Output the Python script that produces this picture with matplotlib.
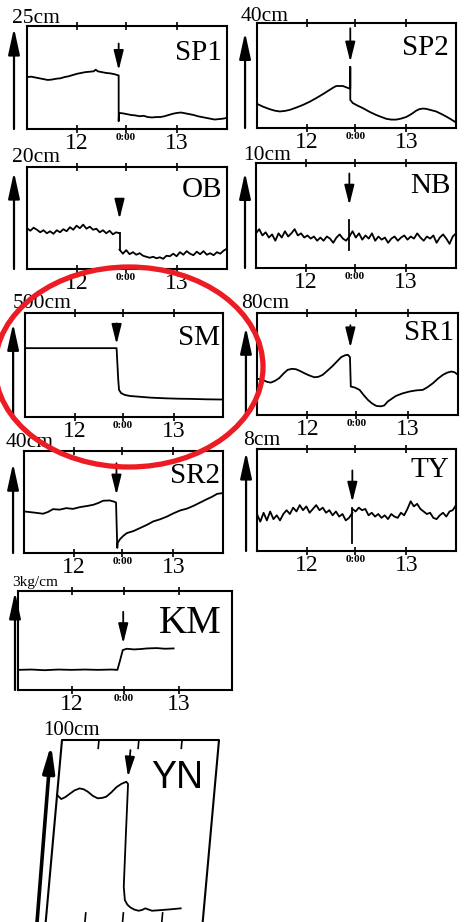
import numpy as np
import matplotlib
matplotlib.use("Agg")
import matplotlib.pyplot as plt
from matplotlib.patches import Ellipse
from matplotlib.transforms import Affine2D

plt.rcParams['font.family'] = ['Liberation Serif', 'DejaVu Serif']

# ------------------------------------------------------------------ data
tick_hours = [12, 23.7, 36]
tick_labels = ['12', '0:00', '13']

# event arrow position (hours) per panel
arrow_hours = {'SP1': 22.0, 'SP2': 22.5, 'OB': 22.2, 'NB': 22.4, 'SM': 22.2,
               'SR1': 22.3, 'SR2': 22.3, 'TY': 23.0, 'KM': 23.6, 'YN': 21.2}
full_scale = {'SP1': 25, 'SP2': 40, 'OB': 20, 'NB': 10, 'SM': 500,
              'SR1': 80, 'SR2': 40, 'TY': 8, 'KM': 3, 'YN': 100}
unit_text = {'SP1': '25cm', 'SP2': '40cm', 'OB': '20cm', 'NB': '10cm', 'SM': '500cm',
             'SR1': '80cm', 'SR2': '40cm', 'TY': '8cm', 'KM': '3kg/cm', 'YN': '100cm'}

sp1_t = [0, 1, 2, 3, 4, 5, 6, 7, 8, 9, 10, 11, 12, 13, 14, 15, 16, 16.5, 17, 18, 19, 20, 21, 22,
         22.0, 22.1, 23, 24, 25, 26, 27, 28, 29, 30, 31, 32, 33, 34, 35, 36, 37, 38, 39, 40,
         41, 42, 43, 44, 45, 46, 47, 48]
sp1_v = [12.6, 12.7, 12.5, 12.3, 12.1, 11.9, 12.0, 12.2, 12.3, 12.6, 12.8, 13.1, 13.4, 13.6,
         13.8, 13.9, 14.0, 14.4, 14.0, 13.8, 13.6, 13.5, 13.3, 13.0,
         1.9, 3.9, 3.8, 3.6, 3.4, 3.3, 3.1, 3.2, 2.9, 2.8, 2.9, 2.9, 3.1, 3.4, 3.7, 3.9, 4.0,
         3.8, 3.6, 3.4, 3.1, 2.9, 2.7, 2.5, 2.3, 2.4, 2.5, 2.7]

sp2_t = [0, 1.5, 3.0, 4.3, 5.5, 6.7, 7.9, 9.5, 11.1, 12.7, 14.3, 15.9, 17.5, 18.3, 19.1, 20.7,
         22.2, 22.5, 22.5, 22.5, 23.1, 24.3, 25.5, 27.1, 28.7, 30.0, 31.2, 32.4, 33.6, 34.8,
         36.0, 36.8, 37.6, 38.4, 39.2, 40.0, 40.8, 42.0, 43.2, 44.4, 45.6, 46.8, 48]
sp2_v = [9.2, 8.1, 7.2, 6.6, 6.3, 6.5, 6.9, 7.8, 8.8, 10.0, 11.4, 12.9, 14.5, 15.3, 16.0, 16.0,
         15.1, 15.1, 23.3, 10.7, 9.5, 8.5, 7.6, 6.2, 5.0, 4.2, 3.5, 3.2, 3.2, 3.6,
         4.2, 4.9, 5.7, 6.6, 7.2, 7.4, 7.3, 6.8, 6.3, 5.4, 4.4, 3.3, 2.1]

ob_pre = [8.0, 7.5, 8.1, 7.7, 7.2, 7.6, 7.0, 7.4, 6.9, 7.6, 7.2, 7.8, 7.4, 8.2, 7.7, 8.5, 8.0,
          8.7, 7.9, 8.3, 7.7, 7.9, 7.2, 7.6, 7.0, 7.5, 6.8, 7.2, 7.0]
ob_post = [3.8, 3.0, 3.7, 2.9, 3.3, 2.8, 3.1, 2.6, 2.4, 2.2, 2.4, 2.1, 2.3, 2.0, 2.6, 2.5, 3.0,
           2.5, 3.3, 2.8, 3.5, 3.0, 2.7, 3.4, 2.9, 3.5, 2.8, 3.1, 2.7, 3.3, 3.0, 3.6, 4.0]

nb_pre = [3.3, 3.7, 3.1, 3.4, 2.9, 3.2, 2.6, 3.3, 2.9, 3.5, 3.0, 3.3, 3.7, 3.1, 3.3, 2.9, 3.1,
          2.8, 3.0, 2.6, 2.9, 2.6, 3.0, 2.8, 2.4, 2.9, 3.2, 2.8, 2.6, 3.0]
nb_post = [3.0, 3.5, 2.9, 3.3, 2.7, 3.1, 2.8, 3.3, 2.6, 3.0, 2.7, 2.9, 2.4, 2.8, 3.0, 2.6, 2.9,
           3.1, 2.7, 3.0, 2.8, 3.3, 2.9, 2.6, 3.0, 2.8, 3.1, 2.4, 2.9, 3.2, 2.8, 2.3, 3.0, 3.3]
nb_spike = [4.6, 1.7]

sm_t = [0, 22.2, 22.6, 22.8, 23.3, 24.2, 25.5, 27.4, 30.5, 33.9, 37.0, 40.3, 44.0, 48]
sm_v = [331, 331, 180, 130, 115, 106, 101, 98, 93, 90, 88, 87, 85, 84]

sr1_t = [0, 1.4, 2.4, 3.3, 4.3, 5.3, 6.3, 7.3, 8.3, 9.3, 10.3, 11.3, 12.5, 13.7, 14.7, 15.7,
         16.9, 18.1, 19.1, 20.1, 21.0, 21.7, 22.2, 22.4, 23.4, 24.5, 25.5, 26.5, 27.5, 28.5,
         29.6, 30.4, 31.2, 32.2, 33.2, 34.8, 36.4, 38.0, 39.6, 40.8, 42.0, 43.2, 44.4, 45.4,
         46.4, 47.2, 48]
sr1_v = [28.5, 27.5, 26.0, 25.4, 26.8, 28.9, 32.4, 35.4, 36.2, 35.9, 34.5, 32.8, 31.0, 29.6,
         30.0, 31.5, 35.0, 38.6, 42.0, 45.4, 46.8, 47.2, 45.4, 22.3, 21.5, 19.7, 15.5, 11.8,
         9.0, 7.1, 6.8, 7.5, 10.5, 12.8, 15.0, 17.0, 18.4, 19.3, 19.7, 22.0, 24.9, 28.5, 31.5,
         33.2, 34.1, 33.5, 31.5]

sr2_t = [0, 2.2, 4.6, 5.8, 7.0, 8.6, 10.2, 11.8, 13.5, 15.1, 16.7, 17.9, 19.1, 20.7, 21.6, 22.2,
         22.5, 22.6, 23.2, 24.0, 24.8, 26.4, 28.0, 29.6, 31.2, 32.8, 34.5, 36.1, 37.7, 39.3,
         40.9, 42.5, 44.1, 45.3, 46.6, 48]
sr2_v = [16.3, 15.9, 15.4, 16.1, 17.2, 17.0, 17.6, 17.3, 18.0, 18.4, 18.9, 19.6, 20.5, 20.6,
         20.2, 19.8, 2.0, 4.0, 5.5, 6.8, 7.8, 8.6, 9.8, 11.0, 12.4, 13.2, 14.3, 15.6, 16.7,
         17.4, 18.5, 19.8, 21.1, 22.0, 23.2, 23.5]

ty_pre = [2.9, 2.3, 3.0, 2.4, 3.1, 2.5, 2.8, 2.4, 2.9, 3.2, 2.9, 3.4, 3.1, 3.6, 3.2, 3.5, 3.0,
          3.3, 3.6, 3.2, 3.4, 3.0, 3.2, 2.8, 3.1, 2.7, 2.9, 2.4, 2.6, 3.0]
ty_post = [3.3, 3.1, 3.4, 3.2, 3.3, 2.8, 3.0, 2.7, 2.9, 2.6, 2.8, 2.5, 2.9, 2.7, 2.6, 3.0, 2.8,
           3.3, 3.9, 3.5, 3.7, 3.3, 3.1, 2.9, 3.0, 2.6, 2.5, 2.8, 3.0, 2.7, 3.1, 3.2, 3.6]
ty_spike = [3.35, 0.6]

km_t = [0, 3, 6, 9, 12, 15, 18, 21, 22.3, 22.9, 23.5, 24.4, 26.0, 27.4, 29.0, 31.1, 33.0, 34.9]
km_v = [0.61, 0.62, 0.60, 0.62, 0.61, 0.62, 0.61, 0.62, 0.61, 0.90, 1.21, 1.25, 1.23, 1.24,
        1.26, 1.27, 1.25, 1.26]

yn_t = [0, 1.4, 2.6, 3.8, 5.2, 6.7, 8.0, 9.3, 11.0, 12.5, 13.8, 15.1, 16.5, 17.9, 19.4, 20.8,
        21.4, 22.1, 22.9, 23.6, 24.5, 25.5, 26.8, 28.1, 29.1, 30.1, 31.2, 32.2, 35.2, 38.0, 40.9]
yn_v = [70.1, 67.9, 69.0, 70.7, 72.6, 73.7, 73.2, 71.9, 69.6, 68.3, 68.5, 69.2, 71.5, 74.3,
        76.2, 77.3, 76.1, 49.3, 20.3, 13.0, 10.5, 9.0, 7.8, 7.2, 7.6, 8.5, 7.8, 7.2, 7.6, 8.0, 8.5]
yn_ticks_top = [11.3, 23.5, 36.7]
yn_ticks_bottom = [12.0, 23.5, 35.5]

# ------------------------------------------------------------------ figure
W, H = 473, 922
fig = plt.figure(figsize=(W / 100, H / 100), dpi=100)
LW = 1.3


def add_px_axes(l, t, r, b):
    return fig.add_axes([l / W, 1 - b / H, (r - l) / W, (b - t) / H])


def arrow(ax, xy, xytext, coords, hl=1.0, hw=0.3, lw=1.4):
    ax.annotate('', xy=xy, xytext=xytext, xycoords=coords, textcoords=coords,
                arrowprops=dict(arrowstyle=f'-|>,head_length={hl},head_width={hw}',
                                lw=lw, color='black', shrinkA=0, shrinkB=0,
                                mutation_scale=10),
                annotation_clip=False)


def panel(key, box, name_xy, unit_xy, yarrow, evarrow, name_size=21, unit_size=15.5):
    ax = add_px_axes(*box)
    ax.set_xlim(0, 48)
    ax.set_ylim(0, full_scale[key])
    ax.set_yticks([])
    ax.set_xticks(tick_hours)
    ax.set_xticklabels(tick_labels)
    ax.tick_params(axis='x', top=True, bottom=True, direction='inout', length=6,
                   width=1.2, pad=0)
    labs = ax.get_xticklabels()
    for i, lab in enumerate(labs):
        if i == 1:
            lab.set_fontsize(8)
            lab.set_fontweight('bold')
        else:
            lab.set_fontsize(17)
    for s in ax.spines.values():
        s.set_linewidth(1.5)
    ax.text(name_xy[0], name_xy[1], key, transform=ax.transAxes, ha='right',
            va='baseline', fontsize=name_size)
    ax.text(unit_xy[0], unit_xy[1], unit_text[key], transform=ax.transAxes, ha='left',
            va='baseline', fontsize=unit_size, clip_on=False)
    # y-axis arrow
    arrow(ax, (yarrow[0], yarrow[2]), (yarrow[0], yarrow[1]), 'axes fraction', hl=1.6, hw=0.35, lw=1.6)
    # event arrow
    h = arrow_hours[key]
    arrow(ax, (h, evarrow[1]), (h, evarrow[0]), ('data', 'axes fraction'), hl=1.2, hw=0.3, lw=1.3)
    return ax


ax = panel('SP1', (27, 26, 227, 129), (0.975, 0.67), (-0.075, 1.03), (-0.065, 0.0, 0.98), (0.83, 0.57))
ax.plot(sp1_t, sp1_v, color='black', lw=LW)

ax = panel('SP2', (257, 23, 456, 128), (0.965, 0.695), (-0.08, 1.02), (-0.06, 0.0, 0.91), (0.95, 0.63))
ax.plot(sp2_t, sp2_v, color='black', lw=LW)

ax = panel('OB', (27, 167, 227, 269), (0.975, 0.706), (-0.075, 1.05), (-0.065, 0.0, 0.95), (0.65, 0.49))
ev = arrow_hours['OB']
ax.plot(np.linspace(0, ev, len(ob_pre)), ob_pre, color='black', lw=LW)
ax.plot([ev, ev], [ob_pre[-1], ob_post[0]], color='black', lw=LW)
ax.plot(np.linspace(ev, 48, len(ob_post)), ob_post, color='black', lw=LW)

ax = panel('NB', (256, 163, 456, 268), (0.975, 0.714), (-0.065, 1.03), (-0.055, 0.0, 0.91), (0.9, 0.6))
ev = arrow_hours['NB']
ax.plot(np.linspace(0, ev, len(nb_pre)), nb_pre, color='black', lw=LW)
ax.plot(np.linspace(ev, 48, len(nb_post)), nb_post, color='black', lw=LW)
ax.plot([ev, ev], nb_spike, color='black', lw=LW)

ax = panel('SM', (25, 313, 223, 417), (0.985, 0.69), (-0.06, 1.05), (-0.06, 0.0, 0.9), (0.9, 0.7))
ax.plot(sm_t, sm_v, color='black', lw=LW)

ax = panel('SR1', (257, 313, 458, 415), (0.98, 0.735), (-0.08, 1.05), (-0.055, 0.02, 0.86), (0.88, 0.66))
ax.plot(sr1_t, sr1_v, color='black', lw=LW)

ax = panel('SR2', (24, 451, 223, 553), (0.985, 0.686), (-0.09, 1.04), (-0.055, 0.0, 0.88), (0.88, 0.57))
ax.plot(sr2_t, sr2_v, color='black', lw=LW)

ax = panel('TY', (257, 449, 456, 551), (0.965, 0.725), (-0.07, 1.04), (-0.055, 0.0, 0.97), (0.79, 0.48))
ev = arrow_hours['TY']
ax.plot(np.linspace(0, ev, len(ty_pre)), ty_pre, color='black', lw=LW)
ax.plot(np.linspace(ev, 48, len(ty_post)), ty_post, color='black', lw=LW)
ax.plot([ev, ev], ty_spike, color='black', lw=LW)

ax = panel('KM', (18, 591, 232, 690), (0.95, 0.576), (-0.028, 1.05), (-0.014, 0.0, 0.99), (0.79, 0.47),
           name_size=28, unit_size=11)
ax.plot(km_t, km_v, color='black', lw=LW)

# ---------------------------------------------------------- YN (skewed panel)
axy = fig.add_axes([62 / W, -2 / H, 157 / W, 184 / H])
axy.set_axis_off()
axy.set_xlim(0, 48)
axy.set_ylim(0, full_scale['YN'])
k = 0.105
skew = Affine2D(np.array([[1.0, k, -k], [0.0, 1.0, 0.0], [0.0, 0.0, 1.0]]))
skew_axes = skew + axy.transAxes
skew_data = axy.transScale + axy.transLimits + skew + axy.transAxes

axy.plot([0, 0, 1, 1], [0, 1, 1, 0], color='black', lw=1.5, transform=skew_axes, clip_on=False)
axy.plot(yn_t, yn_v, color='black', lw=LW, transform=skew_data, clip_on=False)
for tx in yn_ticks_top:
    axy.plot([tx, tx], [100, 95.5], color='black', lw=1.2, transform=skew_data, clip_on=False)
for tx in yn_ticks_bottom:
    axy.plot([tx, tx], [1, 6], color='black', lw=1.2, transform=skew_data, clip_on=False)
axy.text(0.9, 0.74, 'YN', transform=axy.transAxes, ha='right', va='baseline',
         fontsize=27, family=['Liberation Sans', 'DejaVu Sans'])
axy.text(-0.12, 1.027, unit_text['YN'], transform=axy.transAxes, ha='left', va='baseline',
         fontsize=15, clip_on=False)
arrow(axy, (-0.067, 0.975), (-0.055, 0.0), skew_axes, hl=1.6, hw=0.35, lw=2.6)
arrow(axy, (arrow_hours['YN'], 80), (arrow_hours['YN'], 94.5), skew_data, hl=1.2, hw=0.3, lw=1.3)

# ---------------------------------------------------------- red annotation ellipse
ov = fig.add_axes([0, 0, 1, 1], zorder=10)
ov.set_xlim(0, W)
ov.set_ylim(H, 0)
ov.set_axis_off()
ov.patch.set_alpha(0)
ov.add_patch(Ellipse((129, 367), 268, 200, fill=False, edgecolor='#ec1c24', lw=3.8))

fig.savefig('out.png', dpi=100)
